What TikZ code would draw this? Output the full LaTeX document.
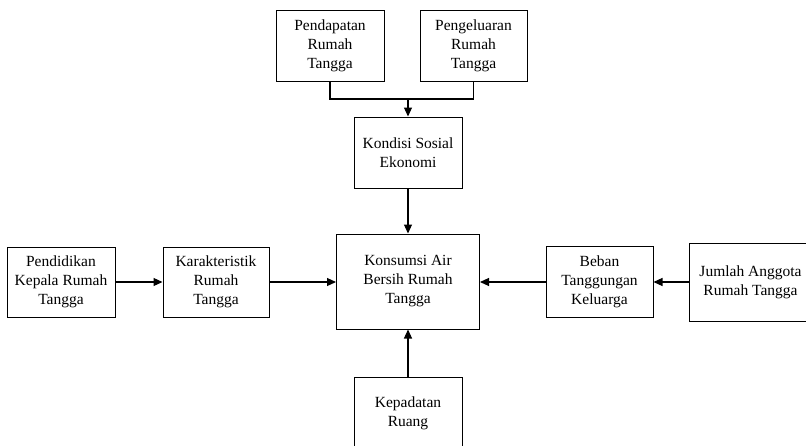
\documentclass[tikz,border=0pt]{standalone}
\usepackage{fontspec}
\setmainfont{Liberation Serif}
\usetikzlibrary{arrows.meta}
\begin{document}
\begin{tikzpicture}[x=1pt,y=-1pt,
  box/.style={draw=black, line width=1pt, inner sep=0pt, align=center,
    font=\fontsize{15.5}{19}\selectfont},
  arr/.style={line width=1.1pt, -{Triangle[length=9pt,width=8pt]}},
  conn/.style={line width=1.1pt}]
\useasboundingbox (0,0) rectangle (806,445);
\clip (0,0) rectangle (806,445);
\node[box, minimum width=108pt, minimum height=71pt] (pend) at (330,45.5) {Pendapatan\\Rumah\\Tangga};
\node[box, minimum width=107pt, minimum height=71pt] (peng) at (473.5,45.5) {Pengeluaran\\Rumah\\Tangga};
\node[box, minimum width=108pt, minimum height=71pt] (kond) at (408,152.5) {Kondisi Sosial\\Ekonomi};
\node[box, minimum width=143pt, minimum height=95pt] (kons) at (408,281.5) {Konsumsi Air\\Bersih Rumah\\Tangga};
\node[box, minimum width=108pt, minimum height=70pt] (pendi) at (61,282) {Pendidikan\\Kepala Rumah\\Tangga};
\node[box, minimum width=106pt, minimum height=70pt] (kar) at (216,282) {Karakteristik\\Rumah\\Tangga};
\node[box, minimum width=107pt, minimum height=71pt] (beban) at (599.5,282) {Beban\\Tanggungan\\Keluarga};
\node[box, minimum width=123pt, minimum height=78pt] (jum) at (750.5,282) {Jumlah Anggota\\Rumah Tangga};
\node[box, minimum width=108pt, minimum height=72pt] (kep) at (408,413) {Kepadatan\\Ruang};
\coordinate (j) at (408,99);
\draw[conn] (pend.south) |- (j) -| (peng.south);
\draw[arr] (j) -- (kond.north);
\draw[arr] (kond.south) -- (kons.north);
\draw[arr] (pendi.east) -- (kar.west);
\draw[arr] (kar.east) -- (kons.west |- kar.east);
\draw[arr] (jum.west) -- (beban.east);
\draw[arr] (beban.west) -- (kons.east |- beban.west);
\draw[arr] (kep.north) -- (kons.south);
\end{tikzpicture}
\end{document}
